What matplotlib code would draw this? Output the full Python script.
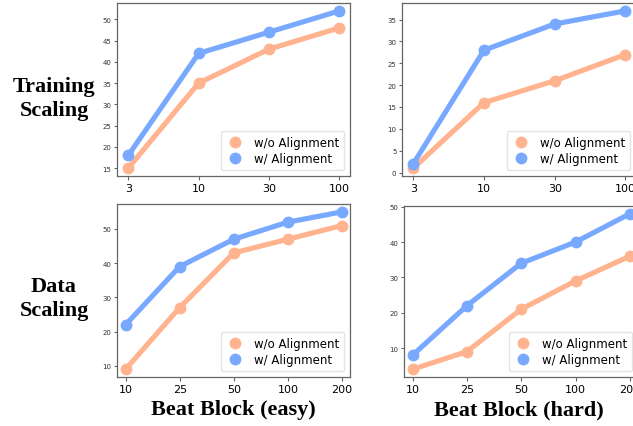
import matplotlib
matplotlib.use("Agg")
import matplotlib.pyplot as plt

orange = "#ffb38e"
blue = "#78a9ff"

train_ticks = ["3", "10", "30", "100"]
data_ticks = ["10", "25", "50", "100", "200"]

easy_train_wo = [15, 35, 43, 48]
easy_train_w = [18, 42, 47, 52]
hard_train_wo = [1, 16, 21, 27]
hard_train_w = [2, 28, 34, 37]

easy_data_wo = [9, 27, 43, 47, 51]
easy_data_w = [22, 39, 47, 52, 55]
hard_data_wo = [4, 9, 21, 29, 36]
hard_data_w = [8, 22, 34, 40, 48]

W, H = 633, 427
fig = plt.figure(figsize=(W / 100, H / 100), dpi=100)

def add_ax(l, r, t, b):
    return fig.add_axes([l / W, 1 - b / H, (r - l) / W, (b - t) / H])

panels = [
    (add_ax(117, 350, 4, 177), train_ticks, easy_train_wo, easy_train_w),
    (add_ax(402, 636, 4, 177), train_ticks, hard_train_wo, hard_train_w),
    (add_ax(117, 350, 205, 378), data_ticks, easy_data_wo, easy_data_w),
    (add_ax(404, 638, 207, 378), data_ticks, hard_data_wo, hard_data_w),
]

for ax, ticks, wo, w in panels:
    x = range(len(ticks))
    ax.plot(x, wo, color=orange, lw=3.7, marker="o", ms=7.5, label="w/o Alignment")
    ax.plot(x, w, color=blue, lw=3.7, marker="o", ms=7.5, label="w/ Alignment")
    ax.set_xticks(list(x))
    ax.set_xticklabels(ticks)
    ax.set_xlim(-0.16, len(ticks) - 1 + 0.15)
    ax.tick_params(axis="x", labelsize=8, length=3, color="#666666", pad=2)
    ax.tick_params(axis="y", labelsize=5, length=2.5, color="#666666",
                   labelcolor="#333333", pad=1.5)
    for s in ax.spines.values():
        s.set_color("#666666")
        s.set_linewidth(0.9)
    h, l = ax.get_legend_handles_labels()
    leg = ax.legend(handles=[plt.Line2D([], [], ls="", marker="o", ms=7.5, color=c) for c in (orange, blue)],
                    labels=l, loc="lower right", fontsize=8.5, handletextpad=0.8,
                    borderpad=0.4, labelspacing=0.3, handlelength=1.6)
    leg.get_frame().set_edgecolor("#dddddd")

serif = dict(family="Liberation Serif", fontweight="bold", fontsize=16,
             ha="center", va="center", linespacing=1.25)
fig.text(54 / W, 1 - 99 / H, "Training\nScaling", **serif)
fig.text(54 / W, 1 - 299 / H, "Data\nScaling", **serif)
fig.text(233 / W, 1 - 410 / H, "Beat Block (easy)", **serif)
fig.text(519 / W, 1 - 410 / H, "Beat Block (hard)", **serif)

fig.savefig("out.png", dpi=100)
